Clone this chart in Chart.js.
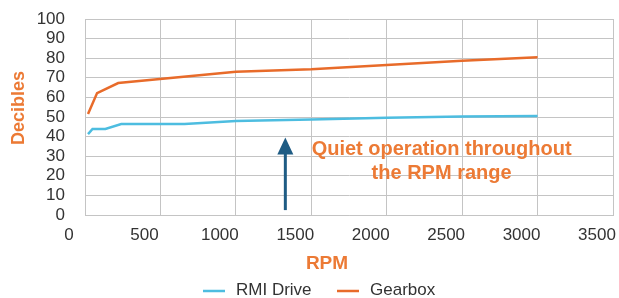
<!DOCTYPE html>
<html>
<head>
<meta charset="utf-8">
<script src="https://cdn.jsdelivr.net/npm/chart.js@4"></script>
<style>
  html,body{margin:0;padding:0;background:#fff;}
  #wrap{position:relative;width:619px;height:298px;}
</style>
</head>
<body>
<div id="wrap"><canvas id="c" width="619" height="298"></canvas></div>
<script>
// === DATA ===
const seriesNames = ['RMI Drive', 'Gearbox'];
const rmiRpm  = [20, 50, 135, 240, 660, 1000, 1500, 2000, 2500, 3000];
const rmiDb   = [41.3, 43.9, 43.9, 46.4, 46.4, 48.0, 48.7, 49.6, 50.2, 50.5];
const gearRpm = [20, 80, 220, 1000, 1500, 2000, 2500, 3000];
const gearDb  = [51.5, 62.2, 67.3, 73.1, 74.3, 76.5, 78.7, 80.5];
const xTicks  = [0, 500, 1000, 1500, 2000, 2500, 3000, 3500];
const yTicks  = [0, 10, 20, 30, 40, 50, 60, 70, 80, 90, 100];
const noteLines = ['Quiet operation throughout', 'the RPM range'];

const BLUE = '#4DBDE0', ORANGE = '#E86B2A', NOTE = '#EC7A35', ARROW = '#1F5C84';
const FONT = '"Liberation Sans", Arial, sans-serif';

const toPts = (xs, ys) => xs.map((x, i) => ({x, y: ys[i]}));

// annotation, axis titles and legend drawn on top
const extras = {
  id: 'extras',
  afterDraw(chart) {
    const {ctx, scales:{x, y}} = chart;
    ctx.save();
    // arrow
    const ax = x.getPixelForValue(1328);
    const y0 = y.getPixelForValue(2.5), y1 = y.getPixelForValue(39.5);
    ctx.strokeStyle = ARROW; ctx.fillStyle = ARROW; ctx.lineWidth = 3;
    ctx.beginPath(); ctx.moveTo(ax, y0); ctx.lineTo(ax, y1 + 14); ctx.stroke();
    ctx.beginPath(); ctx.moveTo(ax, y1); ctx.lineTo(ax - 8, y1 + 17); ctx.lineTo(ax + 8, y1 + 17); ctx.closePath(); ctx.fill();
    // note text
    ctx.fillStyle = NOTE; ctx.font = 'bold 20px ' + FONT;
    ctx.textAlign = 'center'; ctx.textBaseline = 'middle';
    const tx = x.getPixelForValue(2364);
    ctx.fillText(noteLines[0], tx, y.getPixelForValue(33.2));
    ctx.fillText(noteLines[1], tx, y.getPixelForValue(21.4));
    // axis titles
    ctx.font = 'bold 19px ' + FONT;
    ctx.fillText('RPM', 327, 264);
    ctx.save(); ctx.translate(19, 108); ctx.rotate(-Math.PI / 2);
    ctx.font = 'bold 18px ' + FONT; ctx.fillText('Decibles', 0, 0); ctx.restore();
    // legend
    ctx.font = '17px ' + FONT; ctx.textAlign = 'left';
    const lx = [203, 337];
    chart.data.datasets.forEach((ds, i) => {
      ctx.strokeStyle = ds.borderColor; ctx.lineWidth = 2.5;
      ctx.beginPath(); ctx.moveTo(lx[i], 291); ctx.lineTo(lx[i] + 22, 291); ctx.stroke();
      ctx.fillStyle = '#333'; ctx.fillText(ds.label, lx[i] + 33, 290);
    });
    ctx.restore();
  }
};

new Chart(document.getElementById('c'), {
  type: 'line',
  data: {datasets: [
    {label: seriesNames[0], data: toPts(rmiRpm, rmiDb), borderColor: BLUE, borderWidth: 2.5, pointRadius: 0, tension: 0},
    {label: seriesNames[1], data: toPts(gearRpm, gearDb), borderColor: ORANGE, borderWidth: 2.5, pointRadius: 0, tension: 0}
  ]},
  options: {
    responsive: false, animation: false,
    layout: {padding: {left: 0, top: 19, right: 6, bottom: 0}},
    plugins: {legend: {display: false}, tooltip: {enabled: false}},
    scales: {
      x: {type: 'linear', min: 0, max: 3500,
        afterBuildTicks: s => { s.ticks = xTicks.map(v => ({value: v})); },
        afterFit: s => { s.height = 83; s.paddingLeft = 0; s.paddingRight = 0; },
        grid: {color: '#c4c4c4', lineWidth: 1, drawTicks: false},
        border: {color: '#c4c4c4'},
        ticks: {color: '#333', font: {family: FONT, size: 17}, padding: 10, labelOffset: -16,
          maxRotation: 0, autoSkip: false, callback: v => String(v)}},
      y: {min: 0, max: 100,
        afterBuildTicks: s => { s.ticks = yTicks.map(v => ({value: v})); },
        afterFit: s => { s.width = 85; s.paddingTop = 0; s.paddingBottom = 0; },
        grid: {color: '#c4c4c4', lineWidth: 1, drawTicks: false},
        border: {color: '#c4c4c4'},
        ticks: {color: '#333', font: {family: FONT, size: 17}, padding: 20,
          autoSkip: false, callback: v => String(v)}}
    }
  },
  plugins: [extras]
});
</script>
</body>
</html>
